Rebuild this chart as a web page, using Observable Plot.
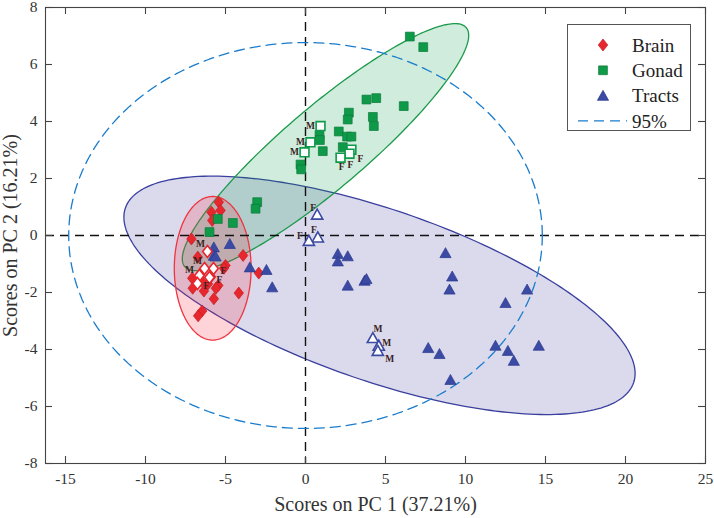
<!DOCTYPE html>
<html>
<head>
<meta charset="utf-8">
<script src="https://cdn.jsdelivr.net/npm/d3@7"></script>
<script src="https://cdn.jsdelivr.net/npm/@observablehq/plot@0.6"></script>
<style>
  html, body { margin: 0; padding: 0; background: #fff; }
  #wrap { position: relative; width: 714px; height: 518px; font-family: "Liberation Serif", "Times New Roman", serif; }
  #legend { position: absolute; left: 567px; top: 24px; font-family: "Liberation Serif", "Times New Roman", serif; }
  #legend text { font-family: "Liberation Serif", "Times New Roman", serif; }
</style>
</head>
<body>
<div id="wrap"><div id="chart"></div><div id="legend"></div></div>
<script>
// ---------- data ----------
const groups = ["Brain", "Gonad", "Tracts"];
const legendLabels = ["Brain", "Gonad", "Tracts", "95%"];
const xTicks = [-15, -10, -5, 0, 5, 10, 15, 20, 25];
const yTicks = [-8, -6, -4, -2, 0, 2, 4, 6, 8];
const xLabel = "Scores on PC 1 (37.21%)";
const yLabel = "Scores on PC 2 (16.21%)";

// filled samples
const brainX = [-5.42, -5.31, -5.88, -5.83, -7.13, -6.73, -3.9, -5.0, -5.1, -2.92, -7.08, -6.5, -5.45, -7.05, -6.35, -5.6, -4.17, -5.73, -6.46, -6.71, -5.9, -6.1];
const brainY = [1.17, 0.88, 0.82, 0.53, -0.12, -0.76, -0.7, -1.05, -1.15, -1.32, -1.5, -1.6, -1.75, -1.85, -1.95, -1.85, -2.02, -2.22, -2.65, -2.82, -1.45, -1.7];
const gonadX = [6.52, 7.36, 3.81, 4.42, 6.14, 2.71, 2.64, 4.21, 4.27, 0.875, 0.9, 2.08, 2.6, 2.87, 2.33, 1.08, -0.31, -0.27, -3.02, -3.12, -5.48, -4.54, -6.0];
const gonadY = [6.98, 6.61, 4.77, 4.82, 4.54, 4.31, 4.07, 4.16, 3.84, 3.53, 3.35, 3.65, 3.47, 3.47, 3.1, 2.96, 2.49, 2.32, 1.17, 0.94, 0.58, 0.44, 0.12];
const tractsX = [2.02, 2.64, 2.02, 2.64, 3.69, 3.81, 8.75, 9.17, 9.0, 13.85, 12.5, 7.67, 8.375, 11.875, 12.65, 13.02, 14.58, 9.06, -5.73, -5.73, -4.73, -5.62, -3.48, -2.44, -2.08];
const tractsY = [-0.64, -0.72, -0.9, -1.75, -1.58, -1.52, -0.61, -1.43, -1.89, -1.89, -2.36, -3.94, -4.15, -3.86, -4.04, -4.39, -3.86, -5.06, -0.41, -0.7, -0.29, -0.73, -1.11, -1.2, -1.81];

// open (sexed) samples
const brainOpenX = [-6.13, -6.31, -6.63, -5.75, -6.0, -6.75];
const brainOpenY = [-0.56, -1.16, -1.4, -1.16, -1.47, -1.68];
const brainOpenSex = ["M", "M", "M", "F", "F", "F"];
const gonadOpenX = [0.94, 0.31, -0.06, 2.87, 2.75, 2.19];
const gonadOpenY = [3.84, 3.27, 2.92, 3.01, 2.87, 2.73];
const gonadOpenSex = ["M", "M", "M", "F", "F", "F"];
const tractsOpenX = [4.21, 4.58, 4.52, 0.73, 0.77, 0.21];
const tractsOpenY = [-3.59, -3.86, -4.04, 0.74, -0.06, -0.18];
const tractsOpenSex = ["M", "M", "M", "F", "F", "F"];

// confidence ellipses: centre and two conjugate half-diameters (data units)
const ellipseGroup = ["Tracts", "Gonad", "Brain", "95%"];
const ellipseCX = [4.625, 1.25, -5.8, 0];
const ellipseCY = [-2.1, 3.1, -1.15, 0];
const ellipseUX = [15.975, 8.95, 2.4, 14.8];
const ellipseUY = [-2.74, 3.92, 0, 0];
const ellipseVX = [0, 0, 0, 0];
const ellipseVY = [3.16, 1.85, 2.52, 6.77];

// ---------- styles ----------
const fillCol = {Brain: "#e8262d", Gonad: "#0f9a4a", Tracts: "#3b4aa2"};
const strokeCol = {Brain: "#c41e25", Gonad: "#0a7a38", Tracts: "#2c3a90"};
const ellFill = {Tracts: "#4444a0", Gonad: "#10a050", Brain: "#ff2a3a"};
const ellStroke = {Tracts: "#3a3f9e", Gonad: "#1b9a4b", Brain: "#ee3540"};
const blue95 = "#1a7ccc";
const serif = "'Liberation Serif', 'Times New Roman', serif";
// pixel offsets of the M/F tags from their markers (style only)
const tagOffsets = {
  Brain: [[-7, -8], [-7, -8], [-10, -5], [10, 2], [10, 3], [9, 3]],
  Gonad: [[-10, 0], [-10, 0], [-10, 0], [9, 9], [1, 11], [1, 9]],
  Tracts: [[5, -9], [8, -3], [12, 8], [-4, -6], [-4, -7], [-9, -5]]
};

const diamondSym = {draw(ctx, size) { const r = Math.sqrt(size / Math.PI); ctx.moveTo(0, -r * 1.2); ctx.lineTo(r * 0.95, 0); ctx.lineTo(0, r * 1.2); ctx.lineTo(-r * 0.95, 0); ctx.closePath(); }};
const squareSym = {draw(ctx, size) { const r = Math.sqrt(size / Math.PI) * 0.88; ctx.rect(-r, -r, 2 * r, 2 * r); }};
const triangleSym = {draw(ctx, size) { const r = Math.sqrt(size / Math.PI); ctx.moveTo(0, -r * 1.05); ctx.lineTo(r * 1.12, r * 0.95); ctx.lineTo(-r * 1.12, r * 0.95); ctx.closePath(); }};
const symOf = {Brain: diamondSym, Gonad: squareSym, Tracts: triangleSym};

// ---------- build tables ----------
const filled = {
  Brain: brainX.map((x, i) => ({x, y: brainY[i]})),
  Gonad: gonadX.map((x, i) => ({x, y: gonadY[i]})),
  Tracts: tractsX.map((x, i) => ({x, y: tractsY[i]}))
};
const open = {
  Brain: brainOpenX.map((x, i) => ({x, y: brainOpenY[i], sex: brainOpenSex[i]})),
  Gonad: gonadOpenX.map((x, i) => ({x, y: gonadOpenY[i], sex: gonadOpenSex[i]})),
  Tracts: tractsOpenX.map((x, i) => ({x, y: tractsOpenY[i], sex: tractsOpenSex[i]}))
};
function ellipsePts(i) {
  const n = 240, pts = [];
  for (let k = 0; k <= n; k++) {
    const t = 2 * Math.PI * k / n;
    pts.push({x: ellipseCX[i] + ellipseUX[i] * Math.cos(t) + ellipseVX[i] * Math.sin(t),
              y: ellipseCY[i] + ellipseUY[i] * Math.cos(t) + ellipseVY[i] * Math.sin(t)});
  }
  return pts;
}

const W = 714, H = 518, mL = 45, mR = 9, mT = 7, mB = 55;
const fw = W - mL - mR, fh = H - mT - mB, tk = 7;

const marks = [];
// filled ellipses
[0, 1, 2].forEach(i => {
  const g = ellipseGroup[i];
  marks.push(Plot.line(ellipsePts(i), {x: "x", y: "y", fill: ellFill[g], fillOpacity: 0.2, stroke: ellStroke[g], strokeWidth: 1.3, curve: "linear"}));
});
// zero lines
marks.push(Plot.ruleX([0], {stroke: "#111", strokeWidth: 1.4, strokeDasharray: "9,6"}));
marks.push(Plot.ruleY([0], {stroke: "#111", strokeWidth: 1.4, strokeDasharray: "9,6"}));
// 95% ellipse
marks.push(Plot.line(ellipsePts(3), {x: "x", y: "y", stroke: blue95, strokeWidth: 1.3, strokeDasharray: "10,6", curve: "linear"}));
// points
groups.forEach(g => {
  marks.push(Plot.dot(filled[g], {x: "x", y: "y", symbol: symOf[g], r: 5, fill: fillCol[g], stroke: strokeCol[g], strokeWidth: 0.7}));
});
groups.forEach(g => {
  marks.push(Plot.dot(open[g], {x: "x", y: "y", symbol: symOf[g], r: 5, fill: "#fff", stroke: fillCol[g], strokeWidth: 1.6}));
  open[g].forEach((d, i) => {
    marks.push(Plot.text([d], {x: "x", y: "y", text: "sex", dx: tagOffsets[g][i][0], dy: tagOffsets[g][i][1], fontSize: 9.5, fontWeight: "bold", fill: "#3a2222"}));
  });
});
// frame + inward ticks
marks.push(Plot.frame({stroke: "#444", strokeWidth: 1.1}));
marks.push(Plot.tickX(xTicks, {x: d => d, insetTop: fh - tk, stroke: "#444", strokeWidth: 1.1}));
marks.push(Plot.tickX(xTicks, {x: d => d, insetBottom: fh - tk, stroke: "#444", strokeWidth: 1.1}));
marks.push(Plot.tickY(yTicks, {y: d => d, insetRight: fw - tk, stroke: "#444", strokeWidth: 1.1}));
marks.push(Plot.tickY(yTicks, {y: d => d, insetLeft: fw - tk, stroke: "#444", strokeWidth: 1.1}));
// axes labels
marks.push(Plot.axisX(xTicks, {tickSize: 0, tickPadding: 9, label: null, tickFormat: d => String(d), fontSize: 15.5, fill: "#333"}));
marks.push(Plot.axisY(yTicks, {tickSize: 0, tickPadding: 8, label: null, tickFormat: d => String(d), fontSize: 15.5, fill: "#333"}));
marks.push(Plot.text([xLabel], {text: d => d, frameAnchor: "bottom", dy: 41, fontSize: 20, fill: "#333", textAnchor: "middle", lineAnchor: "middle"}));
marks.push(Plot.text([yLabel], {text: d => d, frameAnchor: "left", dx: -35, rotate: -90, fontSize: 20, fill: "#333", textAnchor: "middle", lineAnchor: "middle"}));

const chart = Plot.plot({
  width: W, height: H,
  marginLeft: mL, marginRight: mR, marginTop: mT, marginBottom: mB,
  x: {domain: [-16.25, 25], axis: null},
  y: {domain: [-8, 8], axis: null},
  style: {fontFamily: serif, background: "#fff", color: "#333"},
  marks
});
document.getElementById("chart").appendChild(chart);

// ---------- legend (HTML overlay) ----------
const lg = d3.select("#legend").append("svg").attr("width", 124).attr("height", 107);
lg.append("rect").attr("x", 0.5).attr("y", 0.5).attr("width", 123).attr("height", 106).attr("fill", "#fff").attr("stroke", "#555").attr("stroke-width", 1);
legendLabels.forEach((lab, i) => {
  const cy = 21 + i * 25.3;
  const row = lg.append("g").attr("transform", `translate(0,${cy})`);
  if (i < 3) {
    const g = groups[i];
    row.append("path").attr("transform", "translate(36,0)").attr("d", d3.symbol().type(symOf[g]).size(Math.PI * 25)())
      .attr("fill", fillCol[g]).attr("stroke", strokeCol[g]).attr("stroke-width", 0.7);
  } else {
    row.append("line").attr("x1", 11).attr("x2", 60).attr("y1", 0).attr("y2", 0)
      .attr("stroke", blue95).attr("stroke-width", 1.4).attr("stroke-dasharray", "10,6");
  }
  row.append("text").attr("x", 65).attr("y", 0).attr("dy", "0.35em").attr("font-size", 19).attr("fill", "#222")
    .style("font-family", serif).text(lab);
});
</script>
</body>
</html>
